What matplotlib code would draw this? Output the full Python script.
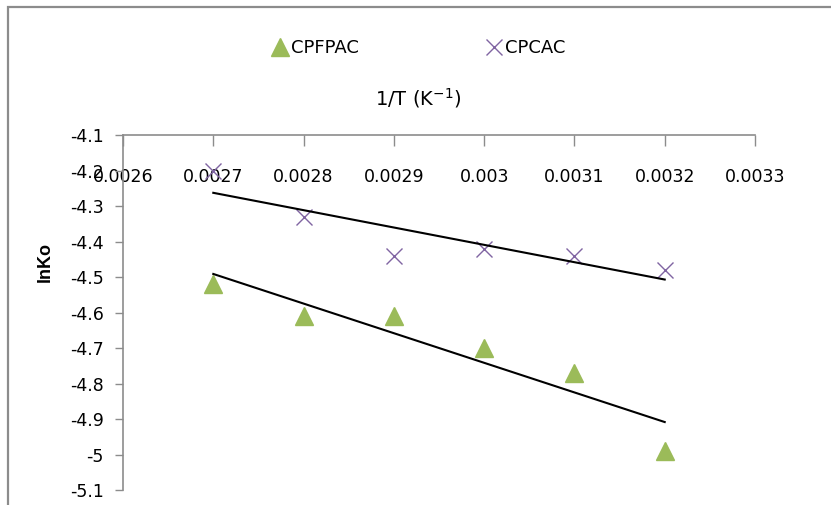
import matplotlib
matplotlib.use("Agg")
import numpy as np
import matplotlib.pyplot as plt
from matplotlib.patches import Rectangle
from matplotlib.ticker import FuncFormatter

# Data
inv_T = [0.0027, 0.0028, 0.0029, 0.0030, 0.0031, 0.0032]
cpfpac = [-4.52, -4.61, -4.61, -4.70, -4.77, -4.99]
cpcac = [-4.20, -4.33, -4.44, -4.42, -4.44, -4.48]

x_ticks = [0.0026, 0.0027, 0.0028, 0.0029, 0.0030, 0.0031, 0.0032, 0.0033]
y_ticks = [-4.1, -4.2, -4.3, -4.4, -4.5, -4.6, -4.7, -4.8, -4.9, -5.0, -5.1]

plt.rcParams['font.family'] = ['DejaVu Sans']
plt.rcParams['axes.unicode_minus'] = False

fig = plt.figure(figsize=(8.31, 5.05), dpi=100)

# outer chart border (cropped on right and bottom)
fig.patches.append(Rectangle((8 / 831, -0.05), 1.2, 1 - 7 / 505 + 0.05,
                             transform=fig.transFigure, fill=False,
                             edgecolor='#8c8c8c', linewidth=1.6))

ax = fig.add_axes([123 / 831, 1 - 490 / 505, (755 - 123) / 831, (490 - 135) / 505])

ax.plot(inv_T, cpfpac, linestyle='none', marker='^', markersize=13,
        color='#9BBB59', label='CPFPAC')
ax.plot(inv_T, cpcac, linestyle='none', marker='x', markersize=11,
        markeredgewidth=1.0, color='#8064A2', label='CPCAC')

# linear trendlines
xs = np.array(inv_T)
for series in (cpfpac, cpcac):
    k, b = np.polyfit(xs, series, 1)
    ax.plot(xs, k * xs + b, color='black', linewidth=1.5)

ax.set_xlim(0.0026, 0.0033)
ax.set_ylim(-5.1, -4.1)
ax.set_xticks(x_ticks)
ax.set_yticks(y_ticks)
fmt = FuncFormatter(lambda v, p: '%g' % round(v, 5))
ax.xaxis.set_major_formatter(fmt)
ax.yaxis.set_major_formatter(fmt)

for side in ('right', 'bottom'):
    ax.spines[side].set_visible(False)
for side in ('top', 'left'):
    ax.spines[side].set_color('#8c8c8c')
    ax.spines[side].set_linewidth(1.2)

ax.xaxis.set_ticks_position('top')
ax.tick_params(axis='x', direction='in', length=8, width=1, color='#8c8c8c',
               labelsize=12.5, pad=-37)
ax.tick_params(axis='y', direction='out', length=6, width=1, color='#8c8c8c',
               labelsize=12.5, pad=8)

fig.text(45 / 831, 1 - 262 / 505, 'lnKo', rotation=90, ha='center',
         va='center', fontsize=13, fontweight='bold', family='Liberation Sans')
fig.text(418 / 831, 1 - 98 / 505, '1/T (K$^{-1}$)', ha='center',
         va='center', fontsize=14)

fig.legend(loc='center left', bbox_to_anchor=(271 / 831, 1 - 48 / 505), ncol=2,
           frameon=False, fontsize=13, columnspacing=7.0, handletextpad=0.1,
           handlelength=1.0, borderpad=0, borderaxespad=0)

fig.savefig('out.png', dpi=100)
